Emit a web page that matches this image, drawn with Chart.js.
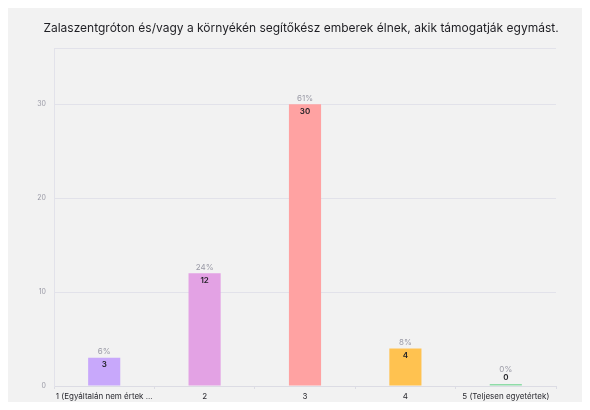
<!DOCTYPE html>
<html>
<head>
<meta charset="utf-8">
<script src="https://cdn.jsdelivr.net/npm/chart.js@4.4.1/dist/chart.umd.min.js"></script>
<style>
  html, body { margin: 0; padding: 0; background: #ffffff; }
  #wrap { position: absolute; left: 8px; top: 8px; width: 574px; height: 394px; background: #f2f2f2; }
</style>
</head>
<body>
<div id="wrap"><canvas id="chartCanvas" width="574" height="394"></canvas></div>
<script>
const titleText = "Zalaszentgróton és/vagy a környékén segítőkész emberek élnek, akik támogatják egymást."
const categories = ["1 (Egyáltalán nem értek ...", "2", "3", "4", "5 (Teljesen egyetértek)"]
const counts = [3, 12, 30, 4, 0]
const percents = ["6%", "24%", "61%", "8%", "0%"]
const yTicks = [0, 10, 20, 30]
const barColors = ["#c8a8fb", "#e3a2e4", "#ffa2a2", "#ffc250", "#8fdca8"]

const fontFamily = "Inter, 'Noto Sans', sans-serif"

const titlePlugin = {
    id: "titleText",
    afterDraw(chart){
        const ctx = chart.ctx
        ctx.save()
        ctx.font = "12px " + fontFamily
        ctx.fillStyle = "#1f1f24"
        ctx.textAlign = "center"
        ctx.textBaseline = "middle"
        ctx.fillText(titleText, 293, 20)
        ctx.restore()
    }
}

const labelPlugin = {
    id: "barLabels",
    afterDatasetsDraw(chart){
        const ctx = chart.ctx
        const meta = chart.getDatasetMeta(0)
        ctx.save()
        ctx.textAlign = "center"
        ctx.textBaseline = "middle"
        meta.data.forEach((bar, i) => {
            let top = bar.y
            let countY = top + 7
            let pctY = top - 6
            if(counts[i] === 0){
                countY = top - 6
                pctY = top - 14
            }
            ctx.font = "8px " + fontFamily
            ctx.fillStyle = "#9a9aa6"
            ctx.fillText(percents[i], bar.x, pctY)
            ctx.font = "600 8px " + fontFamily
            ctx.fillStyle = "#1f1f24"
            ctx.fillText(String(counts[i]), bar.x, countY)
        })
        ctx.restore()
    }
}

new Chart(document.getElementById("chartCanvas"), {
    type: "bar",
    data: {
        labels: categories,
        datasets: [{
            data: counts,
            backgroundColor: barColors,
            barPercentage: 0.32,
            categoryPercentage: 1,
            minBarLength: 2
        }]
    },
    options: {
        responsive: false,
        animation: false,
        layout: { padding: { left: 0, right: 26, top: 40, bottom: 0 } },
        plugins: {
            legend: { display: false },
            tooltip: { enabled: false }
        },
        scales: {
            x: {
                grid: { display: true, drawOnChartArea: false, tickLength: 3, color: "#dcdce4" },
                border: { color: "#dcdce4" },
                ticks: { color: "#2a2a30", font: { family: fontFamily, size: 8 }, padding: 3, maxRotation: 0, autoSkip: false },
                afterFit(scale){ scale.height = 16 }
            },
            y: {
                min: 0,
                max: 36,
                afterBuildTicks(scale){
                    scale.ticks = yTicks.concat([36]).map(v => ({ value: v }))
                },
                grid: { color: "#e2e2ea", drawTicks: false },
                border: { color: "#e2e2ea" },
                ticks: {
                    color: "#9a9aa6",
                    font: { family: fontFamily, size: 7 },
                    padding: 8,
                    callback: v => (yTicks.includes(v) ? v : "")
                },
                afterFit(scale){ scale.width = 46 }
            }
        }
    },
    plugins: [titlePlugin, labelPlugin]
})
</script>
</body>
</html>
